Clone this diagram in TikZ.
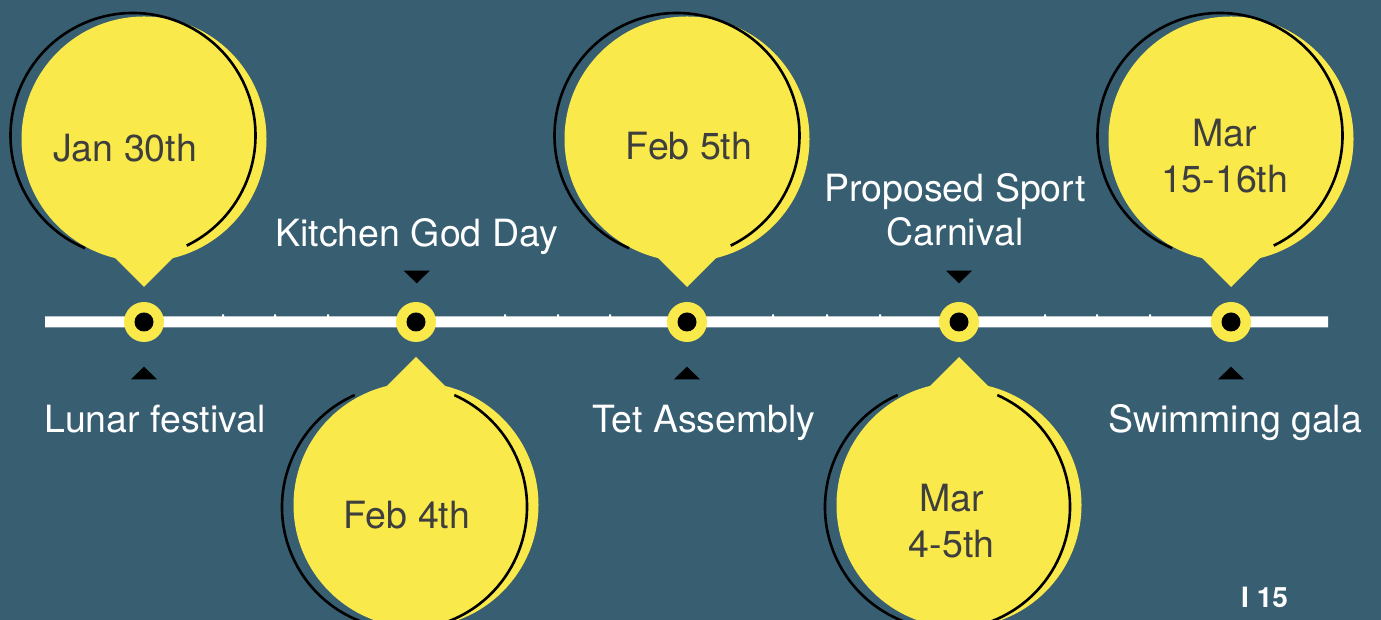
\documentclass[tikz,border=0pt]{standalone}
\usepackage{fontspec}
\setmainfont{TeX Gyre Heros}
\definecolor{bgc}{RGB}{55,94,113}
\definecolor{ylw}{RGB}{249,233,74}
\definecolor{dtxt}{RGB}{62,62,62}
\tikzset{
  lbl/.style={anchor=base, inner sep=0pt, text=white, font=\fontsize{37.5}{45}\selectfont},
  dlbl/.style={anchor=base, inner sep=0pt, text=dtxt, font=\fontsize{37.5}{45}\selectfont},
  ring/.style={circle, fill=ylw, minimum size=40pt, inner sep=0pt},
  hole/.style={circle, fill=black, minimum size=19pt, inner sep=0pt},
  rim/.style={draw=black, line width=2.6pt},
  marker/.style={fill=black},
}
\begin{document}
\begin{tikzpicture}[x=1pt,y=1pt]
\fill[bgc] (0,0) rectangle (1381,620);
\useasboundingbox (0,0) rectangle (1381,620);

% top balloons
\foreach \x/\bx in {144/133, 687/677, 1231/1220}{
  \fill[ylw] (\x,481) circle[radius=122.5];
  \fill[ylw] (\x-29,362) -- (\x+29,362) -- (\x,333) -- cycle;
  \draw[rim] ([shift={(-64:122.5)}]\bx,484.5) arc[start angle=-64, end angle=247, radius=122.5];
}
% bottom balloons
\foreach \x/\bx in {416/404.5, 959/947.5}{
  \fill[ylw] (\x,115) circle[radius=122.5];
  \fill[ylw] (\x-29,234) -- (\x+29,234) -- (\x,263) -- cycle;
  \draw[rim] ([shift={(114:122.5)}]\bx,113) arc[start angle=114, end angle=426, radius=122.5];
}

% timeline with small ticks (single path, no seams)
\fill[white] (45,292.5) -- (1328,292.5) -- (1328,303.5)
  \foreach \t in {1150,1097,1045,880,827,773,610,558,505,328,275,223}{
    -- (\t+1,303.5) -- (\t+1,305.5) -- (\t-1,305.5) -- (\t-1,303.5)
  } -- (45,303.5) -- cycle;
\node[ring] (r1) at (144,298) {};
\node[ring] (r2) at (416,298) {};
\node[ring] (r3) at (687,298) {};
\node[ring] (r4) at (959,298) {};
\node[ring] (r5) at (1231,298) {};
\node[hole] (h1) at (r1) {};
\node[hole] (h2) at (r2) {};
\node[hole] (h3) at (r3) {};
\node[hole] (h4) at (r4) {};
\node[hole] (h5) at (r5) {};

% markers
\foreach \x in {416.7, 959}{
  \fill[marker] (\x-13,349.3) -- (\x+13,349.3) -- (\x,336.7) -- cycle;
}
\foreach \x in {144, 687, 1231}{
  \fill[marker] (\x-13,240.7) -- (\x+13,240.7) -- (\x,253.3) -- cycle;
}

% balloon texts
\node[dlbl] (t1) at (125,458) {Jan 30th};
\node[dlbl] (t3) at (689,460) {Feb 5th};
\node[dlbl] (t5a) at (1224.5,473.3) {Mar};
\node[dlbl] (t5b) at (1224.5,427.7) {15-16th};
\node[dlbl] (t2) at (407,91) {Feb 4th};
\node[dlbl] (t4a) at (951.5,108) {Mar};
\node[dlbl] (t4b) at (951.5,62) {4-5th};

% event labels
\node[lbl] (e2) at (416.7,373.3) {Kitchen God Day};
\node[lbl] (e4a) at (955,418.3) {Proposed Sport};
\node[lbl] (e4b) at (955,374) {Carnival};
\node[lbl] (e1) at (155,187) {Lunar festival};
\node[lbl] (e3) at (704,187) {Tet Assembly};
\node[lbl] (e5) at (1235,187) {Swimming gala};

% page number
\node[anchor=base west, inner sep=0pt, text=white, font=\fontsize{28}{30}\selectfont\bfseries] (pg) at (1241,12.3) {I 15};
\end{tikzpicture}
\end{document}
